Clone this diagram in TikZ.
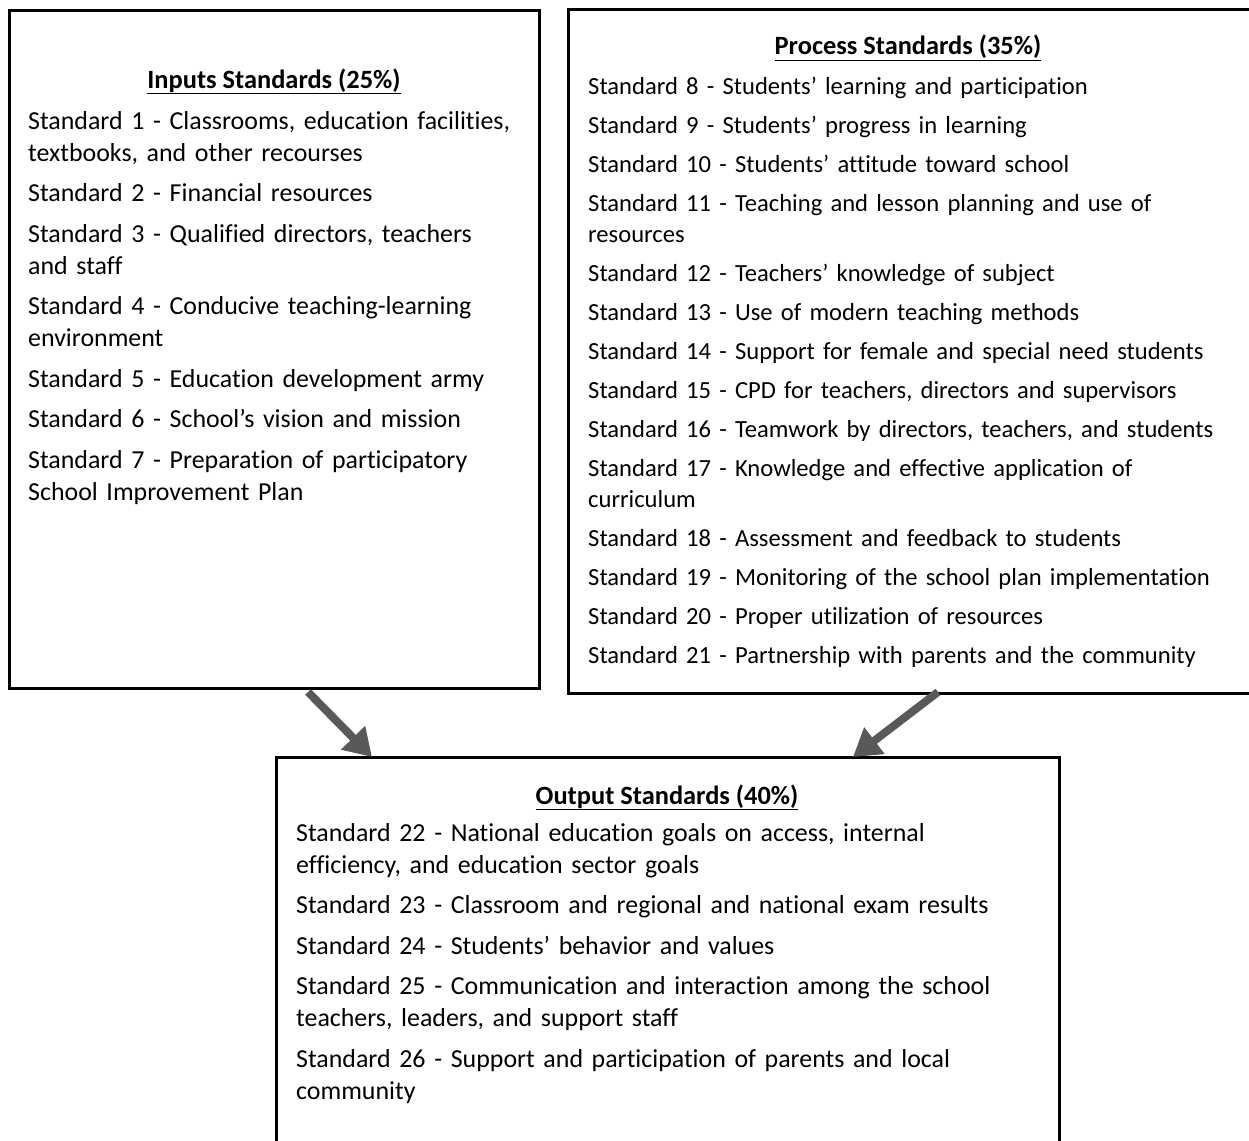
\documentclass[tikz,border=0pt]{standalone}
\usepackage{fontspec}
\setmainfont{Carlito}[Ligatures=NoCommon]
\usetikzlibrary{arrows.meta}
\begin{document}
\begin{tikzpicture}[x=1pt,y=-1pt,
  box/.style={draw=black, line width=3pt, inner sep=0pt, outer sep=0pt, anchor=north west},
  ttl/.style={anchor=base, inner sep=0pt, font=\fontsize{26.4}{32}\selectfont\bfseries},
  body/.style={anchor=base west, inner sep=0pt, align=left, text width=900pt, font=\fontsize{25.9}{32}\selectfont},
  flow/.style={draw=black!65, line width=8pt, -{Triangle[length=27pt,width=32pt]}}]
\useasboundingbox (0,0) rectangle (1249,1140);
% boxes
\node[box, minimum width=530pt, minimum height=677pt] (inbox) at (9,11) {};
\node[box, minimum width=700pt, minimum height=683pt] (procbox) at (568,10) {};
\node[box, minimum width=783pt, minimum height=420pt] (outbox) at (276,757) {};
% titles
\node[ttl] (intitle) at (274,88) {\underline{Inputs Standards (25\%)}};
\node[ttl] (proctitle) at (908,55) {\underline{Process Standards (35\%)}};
\node[ttl] (outtitle) at (667,804) {\underline{Output Standards (40\%)}};
% bodies
\node[body] (inbody) at (28,129) {Standard 1 - Classrooms, education facilities,\\
textbooks, and other recourses\\[8.5pt]
Standard 2 - Financial resources\\[8.5pt]
Standard 3 - Qualified directors, teachers\\
and staff\\[8.5pt]
Standard 4 - Conducive teaching-learning\\
environment\\[8.5pt]
Standard 5 - Education development army\\[8.5pt]
Standard 6 - School’s vision and mission\\[8.5pt]
Standard 7 - Preparation of participatory\\
School Improvement Plan};
\node[body, font=\fontsize{24.6}{31}\selectfont] (procbody) at (588,94) {Standard 8 - Students’ learning and participation\\[8pt]
Standard 9 - Students’ progress in learning\\[8pt]
Standard 10 - Students’ attitude toward school\\[8pt]
Standard 11 - Teaching and lesson planning and use of\\
resources\\[8pt]
Standard 12 - Teachers’ knowledge of subject\\[8pt]
Standard 13 - Use of modern teaching methods\\[8pt]
Standard 14 - Support for female and special need students\\[8pt]
Standard 15 - CPD for teachers, directors and supervisors\\[8pt]
Standard 16 - Teamwork by directors, teachers, and students\\[8pt]
Standard 17 - Knowledge and effective application of\\
curriculum\\[8pt]
Standard 18 - Assessment and feedback to students\\[8pt]
Standard 19 - Monitoring of the school plan implementation\\[8pt]
Standard 20 - Proper utilization of resources\\[8pt]
Standard 21 - Partnership with parents and the community};
\node[body] (outbody) at (296,841) {Standard 22 - National education goals on access, internal\\
efficiency, and education sector goals\\[8.5pt]
Standard 23 - Classroom and regional and national exam results\\[8.5pt]
Standard 24 - Students’ behavior and values\\[8.5pt]
Standard 25 - Communication and interaction among the school\\
teachers, leaders, and support staff\\[8.5pt]
Standard 26 - Support and participation of parents and local\\
community};
% arrows
\coordinate (a1s) at (308,692);
\coordinate (a1e) at (372,757);
\coordinate (a2s) at (938,692);
\coordinate (a2e) at (853,757);
\draw[flow] (a1s) -- (a1e);
\draw[flow] (a2s) -- (a2e);
\end{tikzpicture}
\end{document}
